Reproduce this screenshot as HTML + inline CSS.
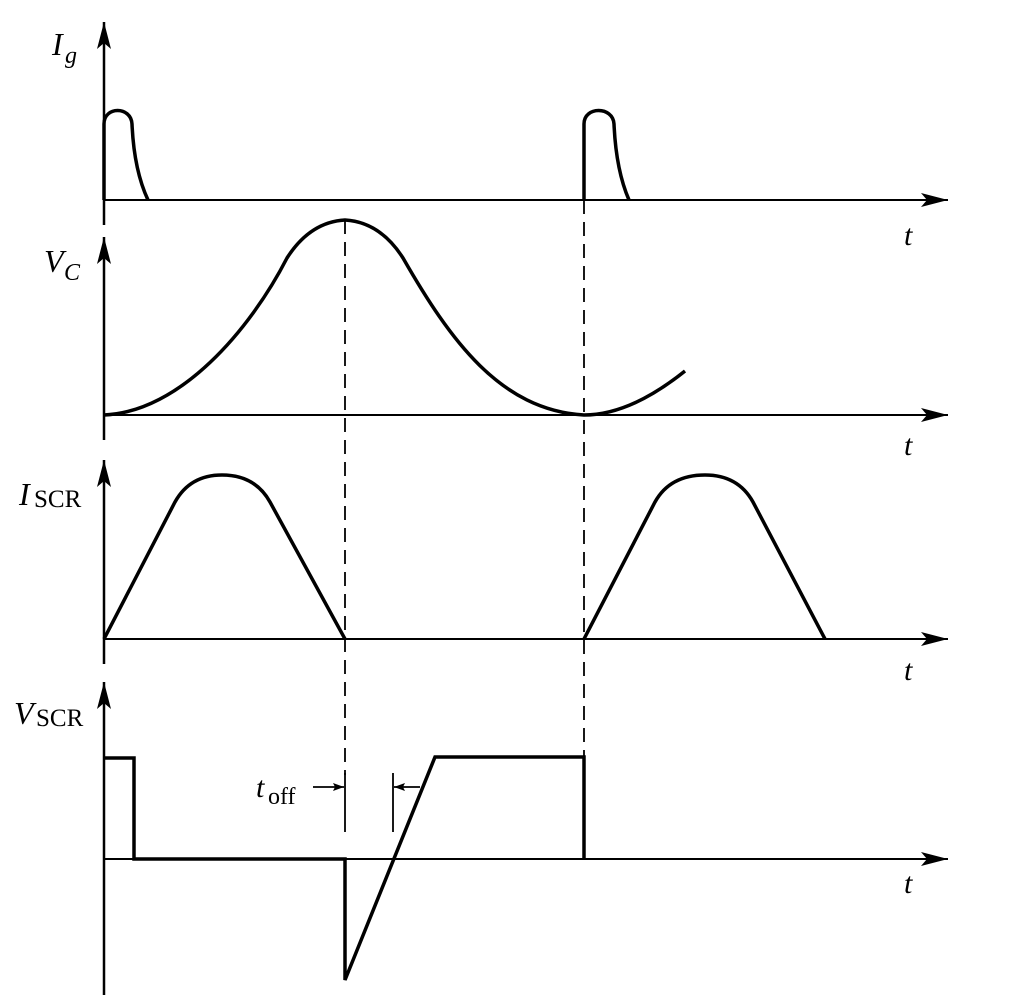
<!DOCTYPE html>
<html><head><meta charset="utf-8"><style>
html,body{margin:0;padding:0;background:#fff;}
svg{display:block;}
text{font-family:"Liberation Serif",serif;fill:#000;}
</style></head><body>
<svg width="1024" height="1007" viewBox="0 0 1024 1007" xmlns="http://www.w3.org/2000/svg">
<defs>
<marker id="ah" markerWidth="28" markerHeight="16" refX="27" refY="8" orient="auto" markerUnits="userSpaceOnUse">
<path d="M0,1 L27,8 L0,15 L6,8 Z" fill="#000"/>
</marker>
<marker id="sa" markerWidth="12" markerHeight="10" refX="11" refY="5" orient="auto" markerUnits="userSpaceOnUse">
<path d="M0,1 L11,5 L0,9 L2,5 Z" fill="#000"/>
</marker>
</defs>
<g stroke="#000" fill="none">
<line x1="104" y1="225" x2="104" y2="22" stroke-width="2.5" marker-end="url(#ah)"/>
<line x1="104" y1="440" x2="104" y2="237" stroke-width="2.5" marker-end="url(#ah)"/>
<line x1="104" y1="664" x2="104" y2="460" stroke-width="2.5" marker-end="url(#ah)"/>
<line x1="104" y1="995" x2="104" y2="682" stroke-width="2.5" marker-end="url(#ah)"/>
<line x1="104" y1="200" x2="948" y2="200" stroke-width="2" marker-end="url(#ah)"/>
<line x1="104" y1="415" x2="948" y2="415" stroke-width="2" marker-end="url(#ah)"/>
<line x1="104" y1="639" x2="948" y2="639" stroke-width="2" marker-end="url(#ah)"/>
<line x1="104" y1="859" x2="948" y2="859" stroke-width="2" marker-end="url(#ah)"/>
<line x1="345" y1="220" x2="345" y2="775" stroke-width="1.8" stroke-dasharray="14,8"/>
<line x1="584" y1="200" x2="584" y2="859" stroke-width="1.8" stroke-dasharray="14,8"/>
<path d="M104,200 L104,124 C104,106 131,106 132,124 Q134,170 148,200" stroke-width="3.5"/>
<path d="M584,200 L584,124 C584,106 613,106 614,124 Q616,170 629,200" stroke-width="3.5"/>
<path d="M104,415 C180,412 250,330 287,258 Q310,222 345,220 Q380,222 403,258 C450,340 500,410 584,415 C620,415 655,395 685,371" stroke-width="3.5"/>
<path d="M104,639 L175,502 Q190,475 222,475 Q255,475 270,502 L345,639" stroke-width="3.5"/>
<path d="M584,639 L655,502 Q670,475 705,475 Q738,475 753,502 L825,639" stroke-width="3.5"/>
<path d="M104,758 L134,758 L134,859 L345,859 L345,980 L435,757 L584,757 L584,859" stroke-width="3.5"/>
<line x1="345" y1="773" x2="345" y2="832" stroke-width="1.8"/>
<line x1="393" y1="773" x2="393" y2="832" stroke-width="1.8"/>
<line x1="313" y1="787" x2="344" y2="787" stroke-width="1.8" marker-end="url(#sa)"/>
<line x1="420" y1="787" x2="394" y2="787" stroke-width="1.8" marker-end="url(#sa)"/>
</g>
<text x="52" y="55" font-size="32" font-style="italic">I</text>
<text x="65" y="63" font-size="24" font-style="italic">g</text>
<text x="44" y="272" font-size="32" font-style="italic">V</text>
<text x="64" y="280" font-size="24" font-style="italic">C</text>
<text x="19" y="505" font-size="32" font-style="italic">I</text>
<text x="34" y="507" font-size="25">SCR</text>
<text x="14" y="724" font-size="32" font-style="italic">V</text>
<text x="36" y="726" font-size="25">SCR</text>
<text x="256" y="797" font-size="30" font-style="italic">t</text>
<text x="268" y="804" font-size="24">off</text>
<text x="904" y="245" font-size="30" font-style="italic">t</text>
<text x="904" y="455" font-size="30" font-style="italic">t</text>
<text x="904" y="680" font-size="30" font-style="italic">t</text>
<text x="904" y="893" font-size="30" font-style="italic">t</text>
</svg>
</body></html>
